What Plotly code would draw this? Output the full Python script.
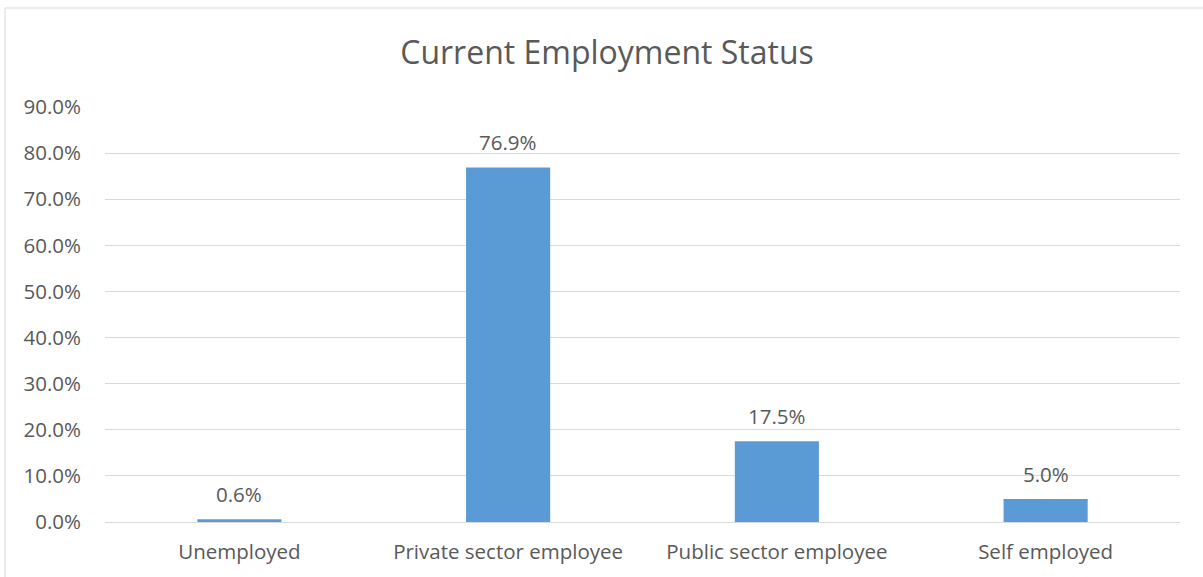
import plotly.graph_objects as go

# Survey breakdown of current employment status (share of respondents, %)
categories = ["Unemployed", "Private sector employee", "Public sector employee", "Self employed"]
shares = [0.6, 76.9, 17.5, 5.0]
tick_values = [0, 10, 20, 30, 40, 50, 60, 70, 80, 90]
tick_labels = [f"{v:.1f}%" for v in tick_values]

FONT = "Open Sans"
TEXT = "#595959"
GRID = "#d9d9d9"
BAR = "#5B9BD5"
LABEL_SIZE = 20.5

W, H = 1203, 577
L, R, T, B = 105, 23, 107, 55
plot_w = W - L - R
plot_h = H - T - B

fig = go.Figure(
    go.Bar(
        x=categories,
        y=shares,
        marker=dict(color=BAR, line=dict(width=0)),
        hoverinfo="skip",
    )
)

# value labels above each bar
for cat, val in zip(categories, shares):
    fig.add_annotation(
        x=cat, y=val, xref="x", yref="y",
        text=f"{val:.1f}%", showarrow=False,
        yanchor="middle", yshift=25,
        font=dict(family=FONT, size=LABEL_SIZE, color=TEXT),
    )

# chart area outline
fig.add_shape(
    type="rect", xref="paper", yref="paper",
    x0=(5 - L) / plot_w, x1=(W + 10 - L) / plot_w,
    y0=-(B + 10) / plot_h, y1=(H - B - 8) / plot_h,
    line=dict(color=GRID, width=1), fillcolor="rgba(0,0,0,0)", layer="below",
)

fig.update_layout(
    width=W, height=H,
    margin=dict(l=L, r=R, t=T, b=B),
    paper_bgcolor="white", plot_bgcolor="white",
    bargap=0.687,
    showlegend=False,
    title=dict(
        text="Current Employment Status",
        x=607 / W, xanchor="center", xref="container",
        y=1 - 53 / H, yanchor="middle", yref="container",
        font=dict(family=FONT, size=32, color=TEXT),
    ),
    xaxis=dict(
        showgrid=False, zeroline=False, showline=False, ticks="",
        tickfont=dict(family=FONT, size=LABEL_SIZE, color=TEXT),
        ticklabelstandoff=15,
        fixedrange=True,
    ),
    yaxis=dict(
        range=[0, 90], tickvals=tick_values, ticktext=tick_labels,
        showgrid=True, gridcolor=GRID, gridwidth=1,
        zeroline=True, zerolinecolor=GRID, zerolinewidth=1,
        showline=False, ticks="",
        tickfont=dict(family=FONT, size=LABEL_SIZE, color=TEXT),
        ticklabelstandoff=23,
        fixedrange=True,
    ),
)

fig.write_html("out.html", config={"displayModeBar": False})
